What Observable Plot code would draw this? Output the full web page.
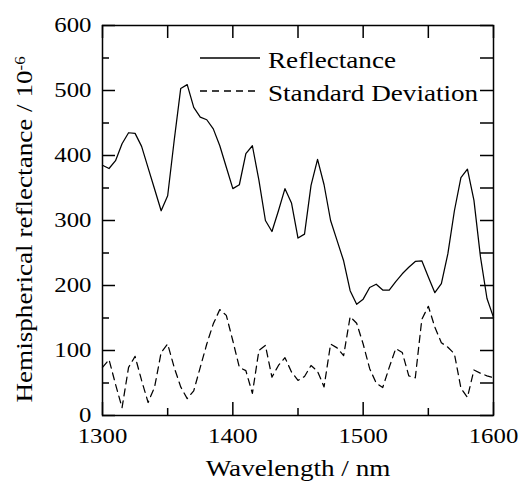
<!DOCTYPE html>
<html><head><meta charset="utf-8">
<script src="https://cdn.jsdelivr.net/npm/d3@7"></script>
<script src="https://cdn.jsdelivr.net/npm/@observablehq/plot@0.6"></script>
<style>
body{margin:0;background:#fff;}
#wrap{position:relative;width:521px;height:482px;}
#legend{position:absolute;left:0;top:0;pointer-events:none;}
</style></head><body><div id="wrap"></div>
<script>
const wavelength = [1300,1305,1310,1315,1320,1325,1330,1335,1340,1345,1350,1355,1360,1365,1370,1375,1380,1385,1390,1395,1400,1405,1410,1415,1420,1425,1430,1435,1440,1445,1450,1455,1460,1465,1470,1475,1480,1485,1490,1495,1500,1505,1510,1515,1520,1525,1530,1535,1540,1545,1550,1555,1560,1565,1570,1575,1580,1585,1590,1595,1600];
const reflectance = [385,380,392,418,435,434,414,381,348,315,338,423,503,509,474,459,455,441,415,382,349,355,403,415,362,300,283,315,349,327,273,279,354,394,355,300,269,238,192,171,179,197,202,193,193,206,218,228,237,238,213,189,203,249,315,366,379,331,244,180,151];
const stdDev = [74,86,48,12,74,91,54,20,44,97,110,74,44,26,38,74,110,141,163,154,115,74,69,34,100,108,59,77,89,67,54,60,77,68,44,110,104,92,152,142,110,72,50,43,74,103,97,61,58,148,168,136,112,105,95,42,28,70,65,61,58];
const xMajorTicks = [1300,1400,1500,1600];
const xMinorTicks = [1350,1450,1550];
const yMajorTicks = [0,100,200,300,400,500,600];
const yMinorTicks = [50,150,250,350,450,550];
const seriesNames = ["Reflectance","Standard Deviation"];
const seriesDash = [null,"7,5"];
const xTitle = "Wavelength / nm";
const yTitle = "Hemispherical reflectance / 10";
const yTitleSup = "-6";

const rows = wavelength.map((w,i)=>({w, r: reflectance[i], s: stdDev[i]}));
const W=521,H=482,mL=102,mR=28,mT=25,mB=67;
const pw=W-mL-mR, ph=H-mT-mB;
const font = "'Liberation Serif','Times New Roman',serif";
const STRETCH = 1.18;

const chart = Plot.plot({
  width:W, height:H, marginLeft:mL, marginRight:mR, marginTop:mT, marginBottom:mB,
  style:{fontFamily:font, fontSize:"21px", background:"white", color:"black", overflow:"visible"},
  x:{domain:[1300,1600]},
  y:{domain:[0,600]},
  marks:[
    Plot.line(rows,{x:"w",y:"r",stroke:"black",strokeWidth:1.25}),
    Plot.line(rows,{x:"w",y:"s",stroke:"black",strokeWidth:1.25,strokeDasharray:"7,5"}),
    Plot.tickY(yMajorTicks,{y:d=>d,insetRight:pw-13,stroke:"black",strokeWidth:1.5}),
    Plot.tickY(yMinorTicks,{y:d=>d,insetRight:pw-7,stroke:"black",strokeWidth:1.5}),
    Plot.tickY(yMajorTicks.concat(yMinorTicks),{y:d=>d,insetLeft:pw-13,stroke:"black",strokeWidth:1.5}),
    Plot.tickX(xMajorTicks,{x:d=>d,insetTop:ph-13,stroke:"black",strokeWidth:1.5}),
    Plot.tickX(xMinorTicks,{x:d=>d,insetTop:ph-7,stroke:"black",strokeWidth:1.5}),
    Plot.tickX(xMajorTicks.concat(xMinorTicks),{x:d=>d,insetBottom:ph-13,stroke:"black",strokeWidth:1.5}),
    Plot.axisX({ticks:xMajorTicks,tickSize:0,tickPadding:13,label:null,tickFormat:d=>String(d),fontSize:21}),
    Plot.axisY({ticks:yMajorTicks,tickSize:0,tickPadding:11,label:null,tickFormat:d=>String(d),fontSize:21}),
    Plot.text([xTitle],{text:d=>d,frameAnchor:"bottom",dy:53,lineAnchor:"middle",textAnchor:"middle",fontSize:23}),
    Plot.text([yTitle],{text:d=>d,frameAnchor:"left",dx:-78,dy:9,rotate:-90,lineAnchor:"middle",textAnchor:"middle",fontSize:23}),
    Plot.frame({stroke:"black",strokeWidth:1.5})
  ]
});

const svg = d3.select(chart);
svg.selectAll("text").each(function(){
  const t = this.getAttribute("transform");
  if (t) this.setAttribute("transform", t + ` scale(${STRETCH},1)`);
  if (this.textContent === yTitle) {
    d3.select(this).append("tspan").attr("dy","-0.45em").attr("font-size","0.62em").text(yTitleSup);
  }
});
document.getElementById("wrap").appendChild(chart);

// legend overlay
const leg = d3.select("#wrap").append("svg").attr("id","legend").attr("width",W).attr("height",H);
const legX0 = 200, legX1 = 260, legTx = 268, legY0 = 58, legStep = 33;
seriesNames.forEach((name,i)=>{
  const y = legY0 + i*legStep;
  leg.append("line").attr("x1",legX0).attr("x2",legX1).attr("y1",y).attr("y2",y)
    .attr("stroke","black").attr("stroke-width",1.3).attr("stroke-dasharray",seriesDash[i]);
  leg.append("text").attr("transform",`translate(${legTx},${y+10}) scale(${STRETCH},1)`)
    .attr("font-family",font).attr("font-size",23).attr("fill","black").text(name);
});
</script></body></html>
